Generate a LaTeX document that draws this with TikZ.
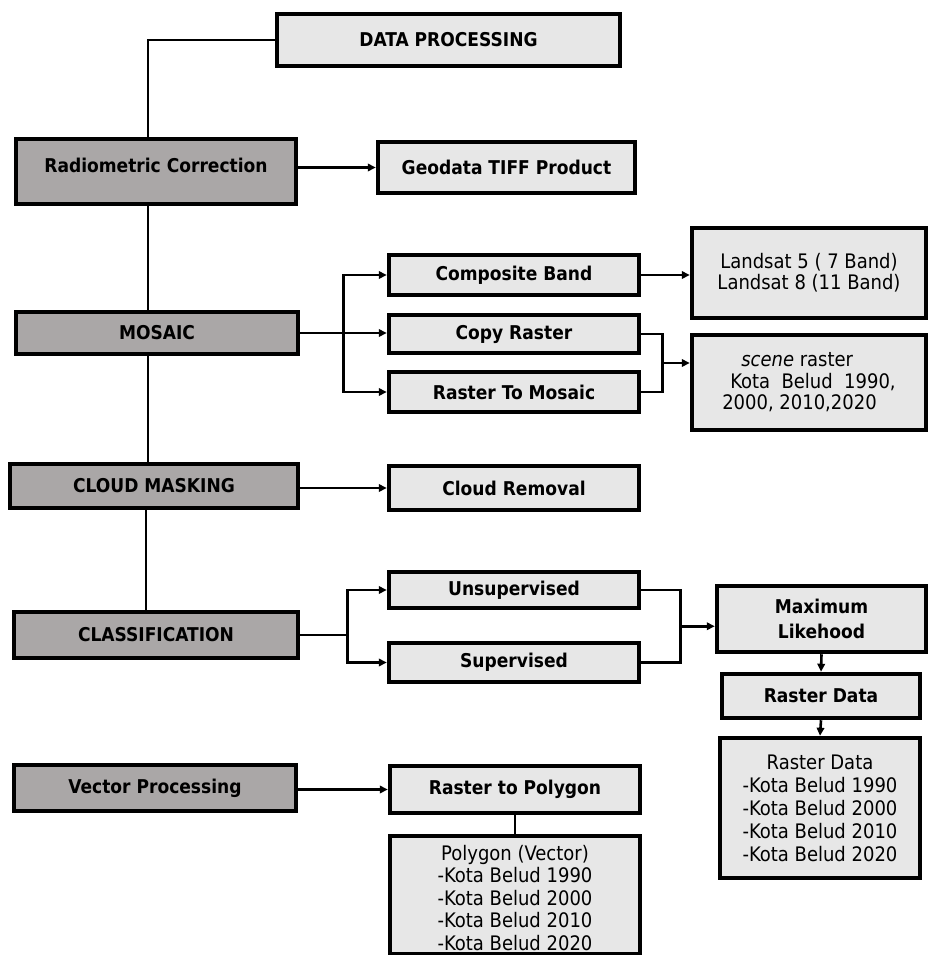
\documentclass[tikz,border=0pt]{standalone}
\usepackage{fontspec}
\setmainfont{DejaVu Sans Condensed}
\usetikzlibrary{arrows.meta,calc}
\definecolor{darkfill}{RGB}{170,167,167}
\definecolor{lightfill}{RGB}{231,231,231}
\tikzset{
  darkbox/.style={draw=black, line width=4.5pt, fill=darkfill, font=\fontsize{19}{22}\selectfont\bfseries, align=center, inner sep=0pt},
  lightbox/.style={draw=black, line width=4.5pt, fill=lightfill, font=\fontsize{19}{22}\selectfont\bfseries, align=center, inner sep=0pt},
  listbox/.style={draw=black, line width=4.5pt, fill=lightfill, font=\fontsize{20}{23}\selectfont, align=center, inner sep=0pt},
  conn/.style={line width=2.6pt},
  arr/.style={line width=2.6pt, -{Triangle[length=8pt,width=7.5pt]}}
}
\begin{document}
\begin{tikzpicture}[x=1pt,y=-1pt]
\useasboundingbox[fill=white] (0,0) rectangle (929,955);
% left column
\node[lightbox, minimum width=343pt, minimum height=52pt] (dp) at (448.5,40) {DATA PROCESSING};
\node[darkbox, minimum width=280pt, minimum height=65pt, text depth=12pt] (rad) at (156,171.5) {Radiometric Correction};
\node[darkbox, minimum width=282pt, minimum height=42pt] (mos) at (157,333) {MOSAIC};
\node[darkbox, minimum width=288pt, minimum height=44pt] (cloud) at (154,486) {CLOUD MASKING};
\node[darkbox, minimum width=284pt, minimum height=46pt] (class) at (156,635) {CLASSIFICATION};
\node[darkbox, minimum width=282pt, minimum height=46pt] (vp) at (155,788) {Vector Processing};
% middle column
\node[lightbox, minimum width=257pt, minimum height=51pt] (geo) at (506.5,167.5) {Geodata TIFF Product};
\node[lightbox, minimum width=250pt, minimum height=40pt] (comp) at (514,275) {Composite Band};
\node[lightbox, minimum width=250pt, minimum height=38pt] (copy) at (514,334) {Copy Raster};
\node[lightbox, minimum width=250pt, minimum height=40pt] (rtm) at (514,392) {Raster To Mosaic};
\node[lightbox, minimum width=250pt, minimum height=44pt] (crem) at (514,488) {Cloud Removal};
\node[lightbox, minimum width=250pt, minimum height=36pt] (unsup) at (514,590) {Unsupervised};
\node[lightbox, minimum width=250pt, minimum height=39pt] (sup) at (514,662.5) {Supervised};
\node[lightbox, minimum width=250pt, minimum height=47pt] (r2p) at (515,789.5) {Raster to Polygon};
\node[listbox, minimum width=250pt, minimum height=118pt, font=\fontsize{20}{22.5}\selectfont] (pl) at (515,895) {\rule{0pt}{21pt}Polygon (Vector)\\-Kota Belud 1990\\-Kota Belud 2000\\-Kota Belud 2010\\-Kota Belud 2020};
% right column
\node[listbox, minimum width=234pt, minimum height=90pt, font=\fontsize{20}{21}\selectfont] (land) at (809,273) {Landsat 5 ( 7 Band)\\Landsat 8 (11 Band)};
\node[listbox, minimum width=234pt, minimum height=95pt, align=left, font=\fontsize{20}{21.5}\selectfont] (scene) at (809,382.5) {\hspace*{19pt}\textit{scene} raster\\\hspace*{8pt}Kota~ Belud~ 1990,\\2000, 2010,2020};
\node[lightbox, minimum width=209pt, minimum height=66pt, font=\fontsize{19}{25}\selectfont\bfseries] (max) at (821.5,619) {Maximum\\Likehood};
\node[lightbox, minimum width=198pt, minimum height=44pt] (rd) at (821,696) {Raster Data};
\node[listbox, minimum width=200pt, minimum height=140pt] (rl) at (820,808) {Raster Data\\-Kota Belud 1990\\-Kota Belud 2000\\-Kota Belud 2010\\-Kota Belud 2020};
% spine
\draw[conn] (dp.west) -| ([xshift=-8pt]rad.north);
\draw[conn] ([xshift=-8pt]rad.south) -- ([xshift=-8pt]rad.south |- mos.north);
\draw[conn] ([xshift=-9pt]mos.south) -- ([xshift=-9pt]mos.south |- cloud.north);
\draw[conn] ([xshift=-8pt]cloud.south) -- ([xshift=-8pt]cloud.south |- class.north);
% radiometric
\draw[arr] (rad.east |- geo.west) -- (geo.west);
% mosaic branch
\coordinate (mb) at ($(mos.east)+(43,0)$);
\draw[arr] (mos.east) -- (mos.east -| copy.west);
\draw[arr] (mb) |- (comp.west);
\draw[arr] (mb) |- (rtm.west);
\draw[arr] (comp.east) -- (comp.east -| land.west);
\coordinate (sb) at ($(copy.east)!0.5!(rtm.east)+(21,0)$);
\draw[conn] (copy.east) -| (sb) |- (rtm.east);
\draw[arr] (sb) -- (sb -| scene.west);
% cloud
\draw[arr] (cloud.east |- crem.west) -- (crem.west);
% classification branch
\coordinate (cb) at ($(class.east)+(47,0)$);
\draw[conn] (class.east) -- (cb);
\draw[arr] (cb) |- (unsup.west);
\draw[arr] (cb) |- (sup.west);
\coordinate (mlb) at ($(unsup.east)!0.5!(sup.east)+(39,0)$);
\draw[conn] (unsup.east) -| (mlb) |- (sup.east);
\draw[arr] (mlb) -- (mlb -| max.west);
\draw[arr] (max.south) -- (rd.north);
\draw[arr] (rd.south) -- (rl.north);
% vector
\draw[arr] (vp.east |- r2p.west) -- (r2p.west);
\draw[conn] (r2p.south) -- (pl.north);
\end{tikzpicture}
\end{document}
